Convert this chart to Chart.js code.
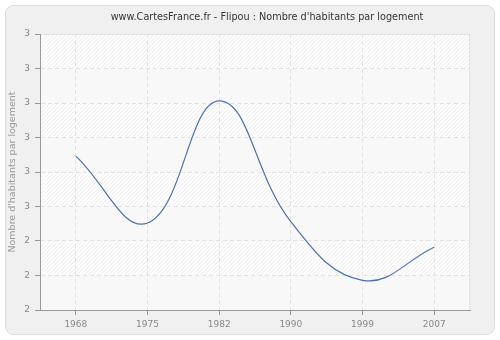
<!DOCTYPE html>
<html>
<head>
<meta charset="utf-8">
<script src="https://cdn.jsdelivr.net/npm/chart.js@4/dist/chart.umd.min.js"></script>
<style>
  html, body { margin: 0; padding: 0; background: #fff; }
  #wrap { width: 500px; height: 340px; }
</style>
</head>
<body>
<div id="wrap"><canvas id="chart" width="500" height="340"></canvas></div>
<script>
const chartTitle = "www.CartesFrance.fr - Flipou : Nombre d'habitants par logement";
const yTitle = "Nombre d'habitants par logement";
const years = ['1968', '1975', '1982', '1990', '1999', '2007'];
const habParLogement = [2.573, 2.476, 2.653, 2.478, 2.393, 2.441];
const yMin = 2.35;
const yMax = 2.75;
const yStep = 0.05;

// frame, striped/hatched plot background and title
const backdrop = {
    id: 'backdrop',
    beforeDraw(chart) {
        const ctx = chart.ctx;
        const a = chart.chartArea;
        ctx.save();
        ctx.fillStyle = '#f0f0f0';
        ctx.strokeStyle = '#dcdcdc';
        ctx.lineWidth = 1;
        ctx.beginPath();
        ctx.roundRect(5.5, 5.5, 489, 329, 8);
        ctx.fill();
        ctx.stroke();

        ctx.fillStyle = '#ffffff';
        ctx.fillRect(a.left, a.top, a.right - a.left, a.bottom - a.top);

        const y = chart.scales.y;
        const n = y.ticks.length;
        for (let i = 0; i < n - 1; i++) {
            const top = y.getPixelForValue(y.ticks[n - 1 - i].value);
            const bot = y.getPixelForValue(y.ticks[n - 2 - i].value);
            if (i % 2 === 1) {
                ctx.fillStyle = '#f8f8f8';
                ctx.fillRect(a.left, top, a.right - a.left, bot - top);
            } else {
                ctx.save();
                ctx.beginPath();
                ctx.rect(a.left, top, a.right - a.left, bot - top);
                ctx.clip();
                ctx.strokeStyle = '#eaeaea';
                ctx.lineWidth = 1;
                ctx.beginPath();
                for (let x = a.left - 60; x < a.right + 60; x += 4) {
                    ctx.moveTo(x, bot);
                    ctx.lineTo(x + (bot - top), top);
                }
                ctx.stroke();
                ctx.restore();
            }
        }
        ctx.strokeStyle = '#e2e2e2';
        ctx.beginPath();
        ctx.moveTo(a.left, a.top + 0.5);
        ctx.lineTo(a.right - 0.5, a.top + 0.5);
        ctx.lineTo(a.right - 0.5, a.bottom);
        ctx.stroke();

        ctx.fillStyle = '#333';
        ctx.font = '9.7px "DejaVu Sans"';
        ctx.textAlign = 'center';
        ctx.textBaseline = 'middle';
        ctx.fillText(chartTitle, 267, 17);
        ctx.restore();
    }
};

new Chart(document.getElementById('chart'), {
    type: 'line',
    data: {
        labels: years,
        datasets: [{
            data: habParLogement,
            borderColor: '#4a72a8',
            borderWidth: 1.2,
            pointRadius: 0,
            tension: 0.42,
            fill: false
        }]
    },
    options: {
        responsive: false,
        animation: false,
        devicePixelRatio: 1,
        layout: { padding: { left: 0, top: 34, right: 30, bottom: 0 } },
        plugins: {
            legend: { display: false },
            tooltip: { enabled: false }
        },
        scales: {
            x: {
                type: 'category',
                offset: true,
                afterFit(scale) { scale.height = 30; },
                grid: {
                    color: '#e2e2e2',
                    tickColor: '#999',
                    tickLength: 5,
                    tickBorderDash: []
                },
                border: { color: '#999', width: 1, dash: [4, 3] },
                ticks: {
                    color: '#888',
                    font: { family: 'DejaVu Sans', size: 9 },
                    padding: 4,
                    maxRotation: 0
                }
            },
            y: {
                min: yMin,
                max: yMax,
                afterFit(scale) { scale.width = 40; },
                grid: {
                    color: '#e2e2e2',
                    tickColor: '#999',
                    tickLength: 5,
                    tickBorderDash: []
                },
                border: { color: '#999', width: 1, dash: [4, 3] },
                ticks: {
                    stepSize: yStep,
                    color: '#888',
                    font: { family: 'DejaVu Sans', size: 9 },
                    padding: 5,
                    callback: v => Math.round(v)
                },
                title: {
                    display: true,
                    text: yTitle,
                    color: '#999',
                    font: { family: 'DejaVu Sans', size: 9.5 },
                    padding: { top: 7, bottom: 0 }
                }
            }
        }
    },
    plugins: [backdrop]
});
</script>
</body>
</html>
